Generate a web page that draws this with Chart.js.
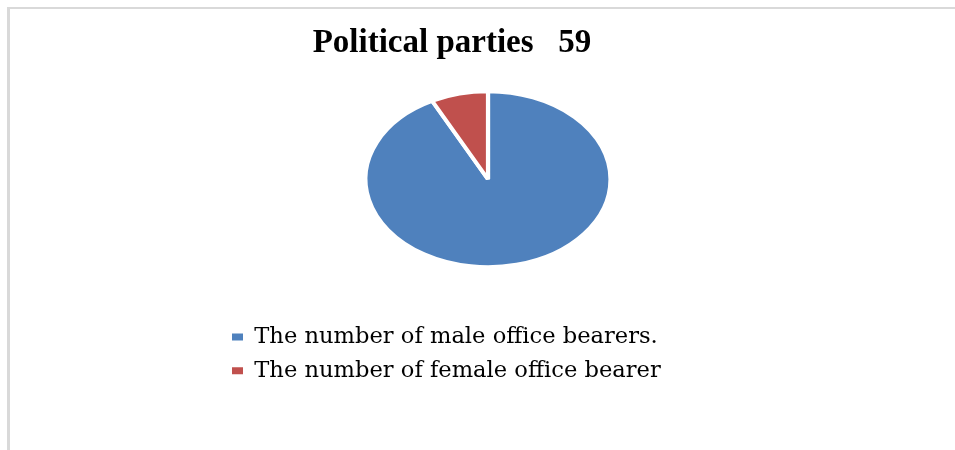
<!DOCTYPE html>
<html>
<head>
<meta charset="utf-8">
<script src="https://cdn.jsdelivr.net/npm/chart.js@4"></script>
<style>
  html, body { margin: 0; padding: 0; background: #fff; }
  #wrap { position: relative; width: 955px; height: 450px; overflow: hidden; }
  #frame { position: absolute; left: 7px; top: 7px; right: 0; bottom: 0;
           border-top: 2px solid #d9d9d9; border-left: 3px solid #d9d9d9; }
  #chart { position: absolute; left: 0; top: 0; }
</style>
</head>
<body>
<div id="wrap">
  <div id="frame"></div>
  <canvas id="chart" width="955" height="450"></canvas>
</div>
<script>
  const labels = ['The number of male office bearers.', 'The number of female office bearer'];
  const bearers = [37, 3];
  const colors = ['#4f81bd', '#c0504d'];

  Chart.defaults.font.family = "'Liberation Serif', serif";
  Chart.defaults.color = '#000';

  // stretch the pie into an ellipse and nudge it off the chart-area centre
  const ellipse = {
    id: 'ellipse',
    beforeDatasetsDraw(chart) {
      const a = chart.chartArea;
      const cx = (a.left + a.right) / 2, cy = (a.top + a.bottom) / 2;
      const ctx = chart.ctx;
      ctx.save();
      ctx.translate(cx + 36, cy - 15);
      ctx.scale(1.4, 1);
      ctx.translate(-cx, -cy);
    },
    afterDatasetsDraw(chart) {
      chart.ctx.restore();
    }
  };

  new Chart(document.getElementById('chart'), {
    type: 'pie',
    data: {
      labels: labels,
      datasets: [{
        data: bearers,
        backgroundColor: colors,
        borderColor: '#fff',
        borderWidth: 3
      }]
    },
    plugins: [ellipse],
    options: {
      responsive: false,
      animation: false,
      radius: 87.5,
      layout: { padding: { left: 221, right: 272, top: 16, bottom: 58 } },
      plugins: {
        tooltip: { enabled: false },
        title: {
          display: true,
          text: 'Political parties   59',
          font: { size: 33, weight: 'bold' },
          padding: { top: 8, bottom: 10 }
        },
        legend: {
          position: 'bottom',
          align: 'start',
          labels: {
            boxWidth: 11,
            boxHeight: 7,
            padding: 11,
            font: { family: "'DejaVu Serif', serif", size: 22.6 },
            generateLabels(chart) {
              const items = Chart.overrides.pie.plugins.legend.labels.generateLabels(chart);
              items.forEach(it => { it.lineWidth = 0; it.strokeStyle = it.fillStyle; });
              return items;
            }
          }
        }
      }
    }
  });
</script>
</body>
</html>
